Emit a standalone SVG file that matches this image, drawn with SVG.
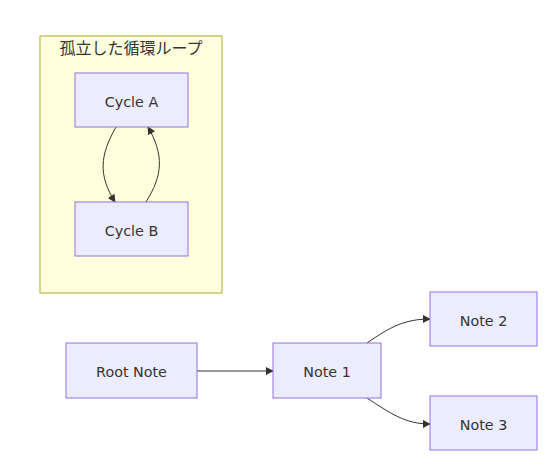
<svg xmlns="http://www.w3.org/2000/svg" width="559" height="466" viewBox="0 0 559 466">
<style>
.node rect{fill:#ECECFF;stroke:#9370DB;stroke-width:1}
.cluster rect{fill:#ffffde;stroke:#aaaa33;stroke-width:1}
text{font-family:"DejaVu Sans","Noto Sans CJK JP",sans-serif;font-size:14.3px;fill:#333;text-anchor:middle;dominant-baseline:central}
.cluster text{font-size:16px}
.edge{fill:none;stroke:#333;stroke-width:1}
</style>
<defs>
<marker id="arr" viewBox="0 0 10 10" refX="9" refY="5" markerWidth="8" markerHeight="8" markerUnits="userSpaceOnUse" orient="auto">
<path d="M0,0 L10,5 L0,10 z" fill="#333"/>
</marker>
</defs>
<rect width="559" height="466" fill="#fff"/>
<g id="cluster" class="cluster">
<rect x="40" y="36" width="182" height="257"/>
<text x="131" y="48">孤立した循環ループ</text>
</g>
<g id="connectors">
<path class="edge" d="M116,127 C100,155 98,175 115,202" marker-end="url(#arr)"/>
<path class="edge" d="M146,202 C163,175 164,155 148,127" marker-end="url(#arr)"/>
<path class="edge" d="M197,371 L273,371" marker-end="url(#arr)"/>
<path class="edge" d="M367,343 C390,327 405,319 430,319" marker-end="url(#arr)"/>
<path class="edge" d="M367,398 C390,413 405,424 430,424" marker-end="url(#arr)"/>
</g>
<g id="cycleA" class="node"><rect x="75" y="73" width="113" height="54"/><text x="131.5" y="101.5">Cycle A</text></g>
<g id="cycleB" class="node"><rect x="75" y="202" width="113" height="54"/><text x="131.5" y="230.5">Cycle B</text></g>
<g id="root" class="node"><rect x="66" y="343" width="131" height="55"/><text x="131.5" y="372">Root Note</text></g>
<g id="note1" class="node"><rect x="273" y="343" width="108" height="55"/><text x="327" y="372">Note 1</text></g>
<g id="note2" class="node"><rect x="430" y="292" width="107" height="54"/><text x="483.5" y="320.5">Note 2</text></g>
<g id="note3" class="node"><rect x="430" y="396" width="107" height="54"/><text x="483.5" y="424.5">Note 3</text></g>
</svg>
